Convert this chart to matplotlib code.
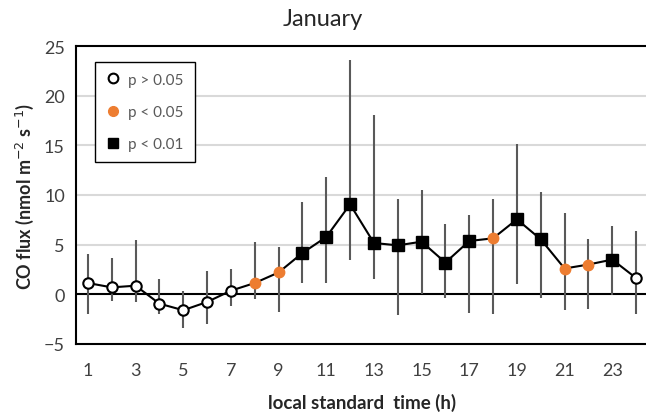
import numpy as np
import matplotlib
matplotlib.use("Agg")
import matplotlib.pyplot as plt
from matplotlib.lines import Line2D

plt.rcParams['font.family'] = ['Lato', 'DejaVu Sans']

# hourly mean CO flux with lower/upper bounds of the error bars
hours = np.arange(1, 25)
flux = [1.14, 0.70, 0.87, -0.94, -1.60, -0.77, 0.37, 1.14, 2.20, 4.16, 5.77, 9.06,
        5.17, 4.93, 5.30, 3.20, 5.37, 5.64, 7.55, 5.54, 2.60, 3.00, 3.50, 1.64]
err_top = [4.1, 3.7, 5.5, 1.58, 0.34, 2.35, 2.58, 5.3, 4.8, 9.3, 11.8, 23.6,
           18.1, 9.63, 10.5, 7.1, 8.0, 9.63, 15.1, 10.3, 8.2, 5.57, 6.9, 6.34]
err_bot = [-1.95, -0.67, -0.77, -1.95, -3.4, -3.0, -1.17, -0.44, -1.78, 1.17, 1.17, 3.5,
           1.5, -2.1, 0.0, -0.37, -1.85, -1.95, 1.0, -0.37, -1.54, -1.44, -0.1, -1.95]
# significance class per hour: 0 -> p > 0.05, 1 -> p < 0.05, 2 -> p < 0.01
signif = [0, 0, 0, 0, 0, 0, 0, 1, 1, 2, 2, 2,
          2, 2, 2, 2, 2, 1, 2, 2, 1, 1, 2, 0]
xtick_labels = [str(h) for h in range(1, 24, 2)]
yticks = [-5, 0, 5, 10, 15, 20, 25]

flux = np.array(flux)
signif = np.array(signif)
lower = flux - np.array(err_bot)
upper = np.array(err_top) - flux

fig = plt.figure(figsize=(6.46, 4.14), dpi=100)
ax = fig.add_axes([76 / 646, 69 / 414, 572 / 646, 298 / 414])

for y in [5, 10, 15, 20]:
    ax.axhline(y, color='#d9d9d9', lw=1.5, zorder=0)
ax.axhline(0, color='black', lw=1.5, zorder=1)

ax.errorbar(hours, flux, yerr=[lower, upper], fmt='none', ecolor='#595959',
            elinewidth=1.5, capsize=0, zorder=2)
ax.plot(hours, flux, color='black', lw=1.5, zorder=3)

m = signif == 0
ax.plot(hours[m], flux[m], 'o', ms=7.5, mfc='white', mec='black', mew=1.5,
        ls='none', zorder=4)
m = signif == 1
ax.plot(hours[m], flux[m], 'o', ms=7.5, mfc='#ed7d31', mec='#ed7d31', mew=1,
        ls='none', zorder=4)
m = signif == 2
ax.plot(hours[m], flux[m], 's', ms=8, mfc='black', mec='black',
        ls='none', zorder=4)

ax.set_xlim(0.5, 24.5)
ax.set_ylim(-5, 25)
ax.set_xticks(range(1, 24, 2))
ax.set_xticklabels(xtick_labels)
ax.set_yticks(yticks)
ax.tick_params(length=0, labelsize=13, labelcolor='#404040')
ax.tick_params(axis='x', pad=13)
ax.tick_params(axis='y', pad=8)
for s in ax.spines.values():
    s.set_linewidth(1.5)
    s.set_color('black')

ax.set_xlabel('local standard  time (h)', fontsize=13.5, fontweight='bold',
              color='#262626')
ax.xaxis.set_label_coords(0.5, -0.165)
ax.set_ylabel('CO flux (nmol m$^{-2}$ s$^{-1}$)', fontsize=13, fontweight='bold',
              color='#262626', labelpad=6)
fig.text(0.5, 1 - 20 / 414, 'January', ha='center', va='center', fontsize=17,
         color='#262626')

handles = [
    Line2D([], [], marker='o', ls='none', ms=7, mfc='white', mec='black', mew=1.5),
    Line2D([], [], marker='o', ls='none', ms=7, mfc='#ed7d31', mec='#ed7d31'),
    Line2D([], [], marker='s', ls='none', ms=7, mfc='black', mec='black'),
]
leg = ax.legend(handles, ['p > 0.05', 'p < 0.05', 'p < 0.01'],
                loc='upper left', bbox_to_anchor=(0.033, 0.946), borderaxespad=0,
                fontsize=11, labelcolor='#595959', fancybox=False, framealpha=1,
                edgecolor='black', handlelength=1.0, handletextpad=0.5,
                labelspacing=1.2, borderpad=0.7)
leg.get_frame().set_linewidth(1.0)

fig.savefig('out.png', dpi=100)
